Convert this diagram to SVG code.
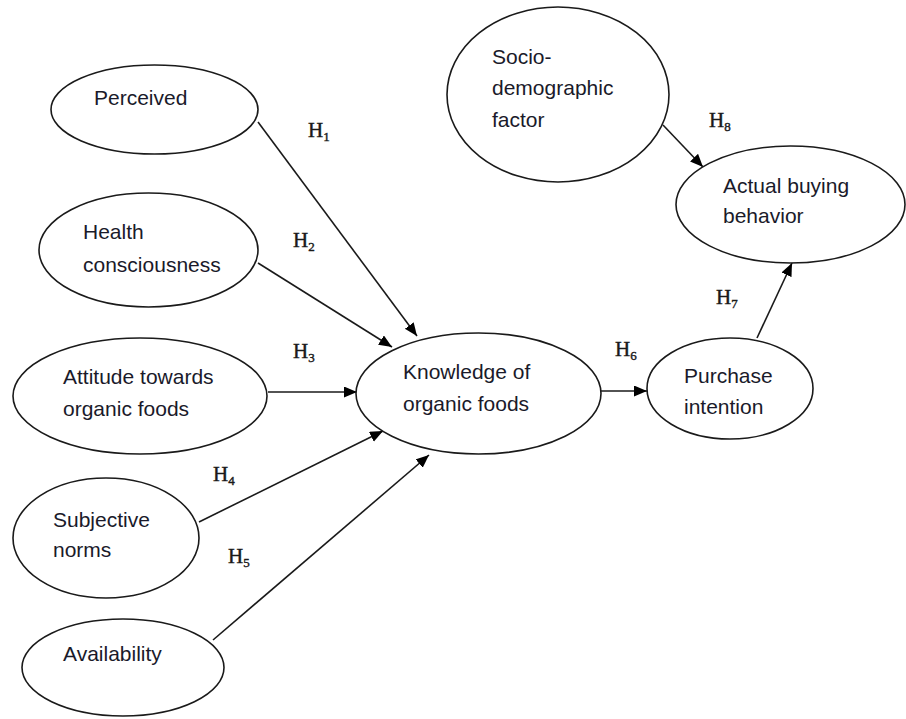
<svg xmlns="http://www.w3.org/2000/svg" width="906" height="719" viewBox="0 0 906 719">
<style>
.n{fill:#fff;stroke:#1a1a1a;stroke-width:1.6}
.t{font-family:"Liberation Sans",Arial,sans-serif;font-size:21px;fill:#1a1a2a}
.h{font-family:"Liberation Serif","Times New Roman",serif;font-size:21px;fill:#1a1a1a;stroke:#1a1a1a;stroke-width:0.4}
.s{font-size:13px}
.e{stroke:#1a1a1a;stroke-width:1.6;fill:none;marker-end:url(#a)}
</style>
<defs>
<marker id="a" markerUnits="userSpaceOnUse" markerWidth="14" markerHeight="12" refX="13" refY="5.5" orient="auto">
<path d="M0,0 L13,5.5 L0,11 z" fill="#000"/>
</marker>
</defs>
<rect width="906" height="719" fill="#fff"/>
<g id="connectors">
<line class="e" x1="258" y1="122" x2="417" y2="336"/>
<line class="e" x1="258" y1="263" x2="392" y2="347"/>
<line class="e" x1="268" y1="392" x2="357" y2="392"/>
<line class="e" x1="199" y1="522" x2="383" y2="431"/>
<line class="e" x1="213" y1="640" x2="429" y2="455"/>
<line class="e" x1="601" y1="391" x2="647" y2="391"/>
<line class="e" x1="757" y1="338" x2="792" y2="263"/>
<line class="e" x1="663" y1="125" x2="703" y2="167"/>
</g>
<g id="labels">
<text class="h" x="308" y="137">H<tspan class="s" dy="4">1</tspan></text>
<text class="h" x="293" y="247">H<tspan class="s" dy="4">2</tspan></text>
<text class="h" x="293" y="358">H<tspan class="s" dy="4">3</tspan></text>
<text class="h" x="213" y="481">H<tspan class="s" dy="4">4</tspan></text>
<text class="h" x="228" y="563">H<tspan class="s" dy="4">5</tspan></text>
<text class="h" x="615" y="356">H<tspan class="s" dy="4">6</tspan></text>
<text class="h" x="716" y="304">H<tspan class="s" dy="4">7</tspan></text>
<text class="h" x="709" y="127">H<tspan class="s" dy="4">8</tspan></text>
</g>
<g id="perceived">
<ellipse class="n" cx="154.5" cy="109.5" rx="103.5" ry="44.5"/>
<text class="t" x="94" y="105">Perceived</text>
</g>
<g id="health">
<ellipse class="n" cx="148.5" cy="250" rx="109.5" ry="57"/>
<text class="t" x="83" y="239">Health</text>
<text class="t" x="83" y="272">consciousness</text>
</g>
<g id="attitude">
<ellipse class="n" cx="140" cy="396" rx="127" ry="58"/>
<text class="t" x="63" y="384">Attitude towards</text>
<text class="t" x="63" y="416">organic foods</text>
</g>
<g id="subjective">
<ellipse class="n" cx="106" cy="538" rx="93" ry="60"/>
<text class="t" x="53" y="527">Subjective</text>
<text class="t" x="53" y="557">norms</text>
</g>
<g id="availability">
<ellipse class="n" cx="123" cy="667.5" rx="101" ry="48.5"/>
<text class="t" x="63" y="661">Availability</text>
</g>
<g id="knowledge">
<ellipse class="n" cx="478.5" cy="393.5" rx="122.5" ry="60.5"/>
<text class="t" x="403" y="379">Knowledge of</text>
<text class="t" x="403" y="411">organic foods</text>
</g>
<g id="purchase">
<ellipse class="n" cx="730" cy="388.5" rx="83" ry="50.5"/>
<text class="t" x="684" y="383">Purchase</text>
<text class="t" x="684" y="414">intention</text>
</g>
<g id="socio">
<ellipse class="n" cx="558" cy="94.5" rx="111" ry="87.5"/>
<text class="t" x="492" y="64">Socio-</text>
<text class="t" x="492" y="95">demographic</text>
<text class="t" x="492" y="127">factor</text>
</g>
<g id="actual">
<ellipse class="n" cx="790.5" cy="204.5" rx="114.5" ry="58.5"/>
<text class="t" x="723" y="193">Actual buying</text>
<text class="t" x="723" y="223">behavior</text>
</g>
</svg>
